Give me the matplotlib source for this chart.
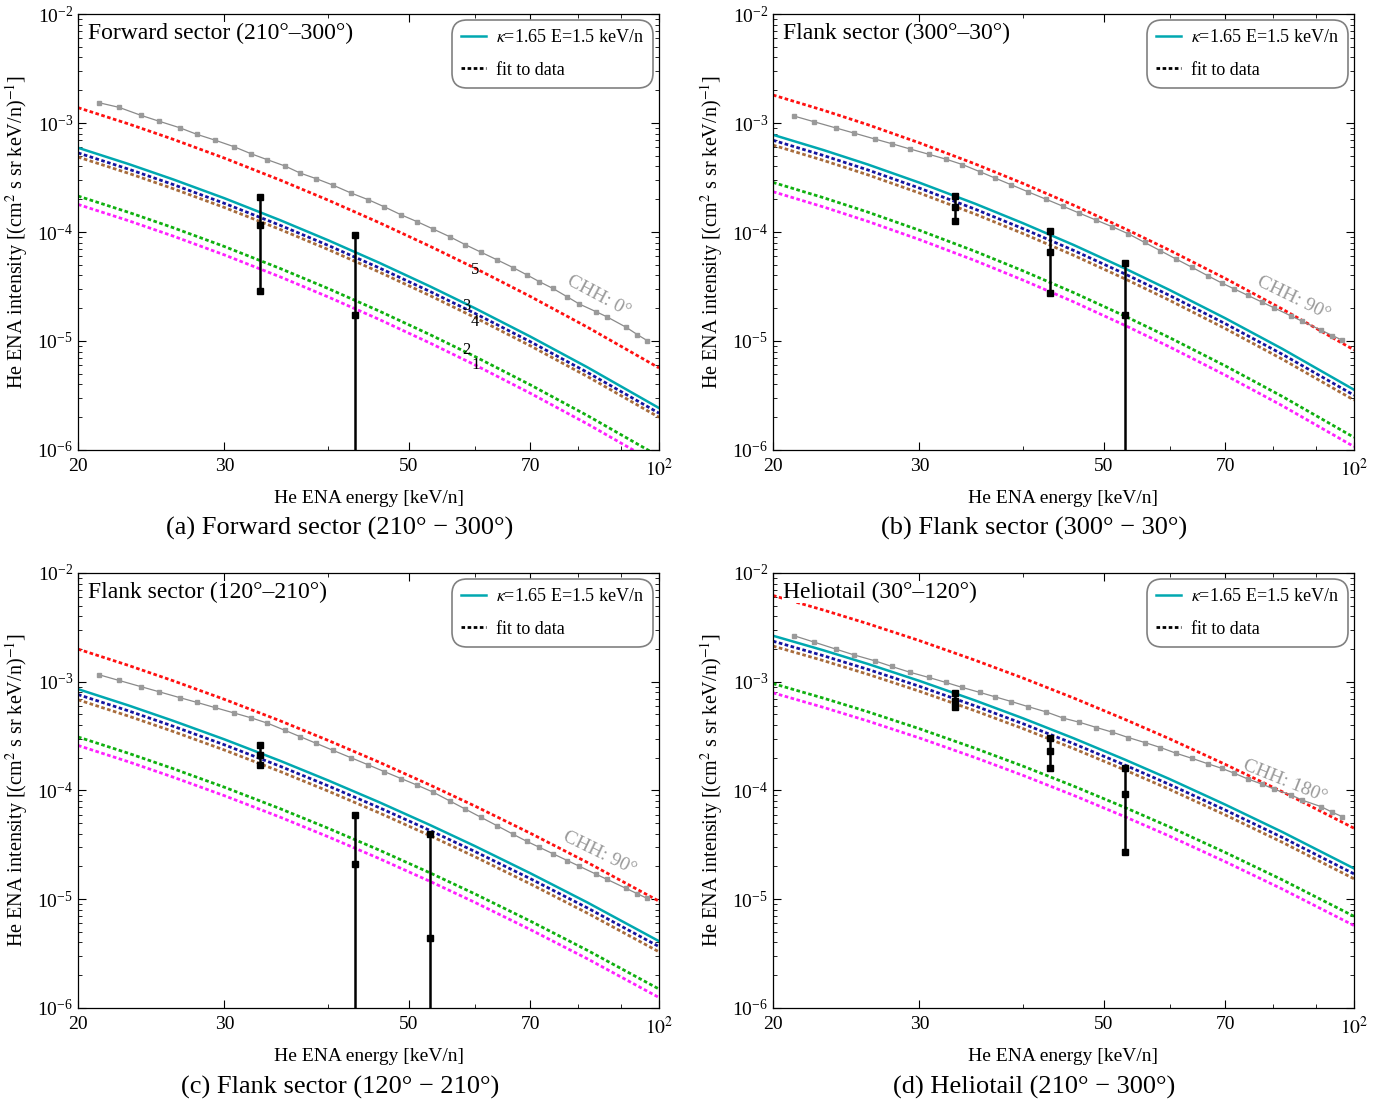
import numpy as np
import matplotlib
matplotlib.use("Agg")
import matplotlib.pyplot as plt
from matplotlib.ticker import FixedLocator, FixedFormatter, NullFormatter, LogLocator, LogFormatterMathtext
from matplotlib.lines import Line2D

plt.rcParams['font.family'] = ['Liberation Serif', 'DejaVu Serif']
plt.rcParams['mathtext.fontset'] = 'stix'

# model curves, read at these energies [keV/n]; values are log10 intensity
energy = [20, 23, 26, 30, 35, 40, 46, 53, 60, 70, 82, 100]

a_cyan = [-3.227, -3.376, -3.516, -3.690, -3.891, -4.076, -4.280, -4.498, -4.698, -4.959, -5.241, -5.615]
a_blue = [-3.274, -3.423, -3.563, -3.737, -3.938, -4.123, -4.327, -4.545, -4.745, -5.006, -5.288, -5.662]
a_brown = [-3.312, -3.461, -3.601, -3.775, -3.976, -4.161, -4.365, -4.583, -4.783, -5.044, -5.326, -5.700]
a_green = [-3.670, -3.819, -3.959, -4.133, -4.334, -4.519, -4.723, -4.941, -5.141, -5.402, -5.684, -6.058]
a_magenta = [-3.747, -3.896, -4.036, -4.210, -4.411, -4.596, -4.800, -5.018, -5.218, -5.479, -5.761, -6.135]
a_red = [-2.859, -3.008, -3.148, -3.322, -3.523, -3.708, -3.912, -4.130, -4.330, -4.591, -4.873, -5.247]

b_cyan = [-3.108, -3.248, -3.380, -3.547, -3.740, -3.920, -4.119, -4.334, -4.532, -4.791, -5.072, -5.447]
b_blue = [-3.158, -3.298, -3.430, -3.597, -3.790, -3.970, -4.169, -4.384, -4.582, -4.841, -5.122, -5.497]
b_brown = [-3.203, -3.343, -3.475, -3.642, -3.835, -4.015, -4.214, -4.429, -4.627, -4.886, -5.167, -5.542]
b_green = [-3.545, -3.685, -3.817, -3.984, -4.177, -4.357, -4.556, -4.771, -4.969, -5.228, -5.509, -5.884]
b_magenta = [-3.630, -3.770, -3.902, -4.069, -4.262, -4.442, -4.641, -4.856, -5.054, -5.313, -5.594, -5.969]
b_red = [-2.743, -2.883, -3.015, -3.182, -3.375, -3.555, -3.754, -3.969, -4.167, -4.426, -4.707, -5.082]

c_cyan = [-3.068, -3.218, -3.358, -3.530, -3.727, -3.908, -4.106, -4.317, -4.510, -4.761, -5.030, -5.386]
c_blue = [-3.118, -3.268, -3.408, -3.580, -3.777, -3.958, -4.156, -4.367, -4.560, -4.811, -5.080, -5.436]
c_brown = [-3.166, -3.316, -3.456, -3.628, -3.825, -4.006, -4.204, -4.415, -4.608, -4.859, -5.128, -5.484]
c_green = [-3.508, -3.658, -3.798, -3.970, -4.167, -4.348, -4.546, -4.757, -4.950, -5.201, -5.470, -5.826]
c_magenta = [-3.586, -3.736, -3.876, -4.048, -4.245, -4.426, -4.624, -4.835, -5.028, -5.279, -5.548, -5.904]
c_red = [-2.700, -2.850, -2.990, -3.162, -3.359, -3.540, -3.738, -3.949, -4.142, -4.393, -4.662, -5.018]

d_cyan = [-2.577, -2.711, -2.836, -2.992, -3.172, -3.337, -3.520, -3.716, -3.895, -4.130, -4.382, -4.717]
d_blue = [-2.627, -2.761, -2.886, -3.042, -3.222, -3.387, -3.570, -3.766, -3.945, -4.180, -4.432, -4.767]
d_brown = [-2.672, -2.806, -2.931, -3.087, -3.267, -3.432, -3.615, -3.811, -3.990, -4.225, -4.477, -4.812]
d_green = [-3.017, -3.151, -3.276, -3.432, -3.612, -3.777, -3.960, -4.156, -4.335, -4.570, -4.822, -5.157]
d_magenta = [-3.102, -3.236, -3.361, -3.517, -3.697, -3.862, -4.045, -4.241, -4.420, -4.655, -4.907, -5.242]
d_red = [-2.207, -2.341, -2.466, -2.622, -2.802, -2.967, -3.150, -3.346, -3.525, -3.760, -4.012, -4.347]

# CHH model points (gray squares), log10 intensity
chh_energy = [21.2, 22.4, 23.8, 25.0, 26.5, 27.8, 29.2, 30.8, 32.3, 33.8, 35.5, 37.0,
              38.7, 40.5, 42.6, 44.7, 46.7, 49.0, 51.2, 53.5, 56.0, 58.5, 61.1, 63.8,
              66.8, 69.3, 71.8, 74.5, 77.6, 80.2, 84.0, 86.5, 91.3, 94.2, 96.8]
chh0 = [-2.814, -2.856, -2.929, -2.982, -3.043, -3.104, -3.156, -3.217, -3.282, -3.337,
        -3.395, -3.459, -3.511, -3.569, -3.642, -3.704, -3.768, -3.844, -3.906, -3.973,
        -4.043, -4.117, -4.186, -4.254, -4.328, -4.392, -4.456, -4.517, -4.596, -4.661,
        -4.731, -4.777, -4.874, -4.942, -4.997]
chh90 = [-2.936, -2.988, -3.045, -3.091, -3.146, -3.190, -3.237, -3.287, -3.332, -3.381,
         -3.448, -3.505, -3.567, -3.630, -3.699, -3.765, -3.826, -3.892, -3.952, -4.016,
         -4.096, -4.172, -4.248, -4.323, -4.404, -4.467, -4.523, -4.581, -4.645, -4.697,
         -4.770, -4.816, -4.901, -4.950, -4.993]
chh180 = [-2.577, -2.635, -2.700, -2.752, -2.807, -2.860, -2.912, -2.961, -3.007, -3.053,
          -3.099, -3.139, -3.182, -3.228, -3.277, -3.335, -3.372, -3.421, -3.464, -3.513,
          -3.559, -3.605, -3.658, -3.704, -3.756, -3.796, -3.842, -3.894, -3.943, -3.989,
          -4.041, -4.087, -4.149, -4.201, -4.241]

# measured data with error bars (1e-8 = lower end below the plot)
a_bar_e = [33.1, 43.1]
a_bar_lo = [2.9e-5, 1e-8]
a_bar_mid = [1.16e-4, 1.73e-5]
a_bar_hi = [2.1e-4, 9.4e-5]

b_bar_e = [33.1, 43.1, 53.0]
b_bar_lo = [1.26e-4, 2.75e-5, 1e-8]
b_bar_mid = [1.7e-4, 6.6e-5, 1.73e-5]
b_bar_hi = [2.15e-4, 1.02e-4, 5.2e-5]

c_bar_e = [33.1, 43.1, 53.0]
c_bar_lo = [1.7e-4, 1e-8, 1e-8]
c_bar_mid = [2.1e-4, 2.1e-5, 4.4e-6]
c_bar_hi = [2.6e-4, 6.0e-5, 4.0e-5]

d_bar_e = [33.1, 43.1, 53.0]
d_bar_lo = [5.8e-4, 1.6e-4, 2.7e-5]
d_bar_mid = [6.7e-4, 2.33e-4, 9.2e-5]
d_bar_hi = [7.8e-4, 3.06e-4, 1.6e-4]

inner_titles = ['Forward sector (210°–300°)', 'Flank sector (300°–30°)',
                'Flank sector (120°–210°)', 'Heliotail (30°–120°)']
captions = ['(a) Forward sector (210° − 300°)', '(b) Flank sector (300° − 30°)',
            '(c) Flank sector (120° − 210°)', '(d) Heliotail (210° − 300°)']
chh_labels = ['CHH: 0°', 'CHH: 90°', 'CHH: 90°', 'CHH: 180°']
chh_label_pos = [(84.6, -4.594), (84.6, -4.604), (84.9, -4.578), (82.6, -3.918)]
chh_label_rot = [-28, -26, -26, -22]

# curve numbers in panel (a)
num_labels = ['5', '3', '4', '2', '1']
num_e = [60.1, 58.6, 60.1, 58.6, 60.1]
num_log = [-4.349, -4.679, -4.823, -5.083, -5.220]

x_major = [20, 30, 50, 70, 100]
x_major_labels = ['20', '30', '50', '70', r'$10^2$']
x_minor = [40, 60, 80, 90]

col_cyan = '#00a8b0'
col_blue = '#1414a0'
col_brown = '#a86c3c'
col_green = '#10b010'
col_magenta = '#ff20ff'
col_red = '#ff1010'
dots = (0, (1.3, 0.9))

fig = plt.figure(figsize=(13.88, 11.04), dpi=100)
positions = [[0.0562, 0.5924, 0.4186, 0.3949],
             [0.5569, 0.5924, 0.4186, 0.3949],
             [0.0562, 0.0870, 0.4186, 0.3940],
             [0.5569, 0.0870, 0.4186, 0.3940]]

panels = [
    (a_cyan, a_blue, a_brown, a_green, a_magenta, a_red, chh0, a_bar_e, a_bar_lo, a_bar_mid, a_bar_hi),
    (b_cyan, b_blue, b_brown, b_green, b_magenta, b_red, chh90, b_bar_e, b_bar_lo, b_bar_mid, b_bar_hi),
    (c_cyan, c_blue, c_brown, c_green, c_magenta, c_red, chh90, c_bar_e, c_bar_lo, c_bar_mid, c_bar_hi),
    (d_cyan, d_blue, d_brown, d_green, d_magenta, d_red, chh180, d_bar_e, d_bar_lo, d_bar_mid, d_bar_hi),
]

for i, (cy, bl, br, gr, mg, rd, chh, be, blo, bmid, bhi) in enumerate(panels):
    ax = fig.add_axes(positions[i])
    ax.set_xscale('log')
    ax.set_yscale('log')

    ax.plot(energy, 10 ** np.array(rd), color=col_red, lw=2, ls=dots, zorder=2)
    ax.plot(energy, 10 ** np.array(gr), color=col_green, lw=2, ls=dots, zorder=2)
    ax.plot(energy, 10 ** np.array(mg), color=col_magenta, lw=2, ls=dots, zorder=2)
    ax.plot(energy, 10 ** np.array(br), color=col_brown, lw=2, ls=dots, zorder=2)
    ax.plot(energy, 10 ** np.array(bl), color=col_blue, lw=2, ls=dots, zorder=2)
    ax.plot(energy, 10 ** np.array(cy), color=col_cyan, lw=1.8, zorder=2.5)

    ax.plot(chh_energy, 10 ** np.array(chh), color='#8a8a8a', lw=0.9,
            marker='s', ms=3.2, mfc='#9a9a9a', mec='#9a9a9a', zorder=3)

    ax.vlines(be, blo, bhi, color='black', lw=1.8, zorder=4)
    for arr in (blo, bmid, bhi):
        ax.plot(be, arr, 's', color='black', ms=4.8, zorder=4)

    ax.set_xlim(20, 100)
    ax.set_ylim(1e-6, 1e-2)

    ax.xaxis.set_major_locator(FixedLocator(x_major))
    ax.xaxis.set_major_formatter(FixedFormatter(x_major_labels))
    ax.xaxis.set_minor_locator(FixedLocator(x_minor))
    ax.xaxis.set_minor_formatter(NullFormatter())
    ax.yaxis.set_major_locator(LogLocator(base=10, numticks=10))
    ax.yaxis.set_major_formatter(LogFormatterMathtext())
    ax.yaxis.set_minor_locator(LogLocator(base=10, subs=np.arange(2, 10), numticks=20))
    ax.yaxis.set_minor_formatter(NullFormatter())
    ax.tick_params(which='both', direction='in', top=True, right=True, labelsize=14)
    ax.tick_params(which='major', length=6, width=0.8)
    ax.tick_params(which='minor', length=3, width=0.6)
    ax.tick_params(axis='x', which='major', pad=6)
    for sp in ax.spines.values():
        sp.set_linewidth(0.9)

    ax.set_xlabel('He ENA energy [keV/n]', fontsize=14)
    ax.xaxis.set_label_coords(0.5, -0.091)
    ax.set_ylabel(r'He ENA intensity [(cm$^2$ s sr keV/n)$^{-1}$]', fontsize=14.5)
    ax.yaxis.set_label_coords(-0.083, 0.5)

    ax.text(0.0172, 0.956, inner_titles[i], transform=ax.transAxes, fontsize=17,
            ha='left', va='center', zorder=6,
            bbox=dict(fc='white', ec='none', pad=0.5))

    ex, ey = chh_label_pos[i]
    ax.text(ex, 10 ** ey, chh_labels[i], color='#9a9a9a', fontsize=14,
            rotation=chh_label_rot[i], ha='center', va='center', zorder=5)

    if i == 0:
        for lab, e, v in zip(num_labels, num_e, num_log):
            ax.text(e, 10 ** v, lab, fontsize=12, ha='center', va='center', zorder=5)

    handles = [Line2D([], [], color=col_cyan, lw=1.8),
               Line2D([], [], color='black', lw=2, ls=dots)]
    leg = ax.legend(handles, [r'$\kappa$=1.65 E=1.5 keV/n', 'fit to data'],
                    loc='upper right', fontsize=13, frameon=True, fancybox=True,
                    framealpha=1, edgecolor='#808080', borderaxespad=0.35,
                    handlelength=1.35, handletextpad=0.55, labelspacing=0.85, borderpad=0.5)
    leg.get_frame().set_boxstyle('round', pad=0, rounding_size=0.8)
    leg.get_frame().set_linewidth(1.2)
    leg.set_zorder(7)

caption_x = [0.245, 0.745, 0.245, 0.745]
caption_y = [0.5210, 0.5210, 0.0150, 0.0150]
for i in range(4):
    fig.text(caption_x[i], caption_y[i], captions[i], fontsize=19, ha='center', va='center')

fig.savefig('out.png', dpi=100)
